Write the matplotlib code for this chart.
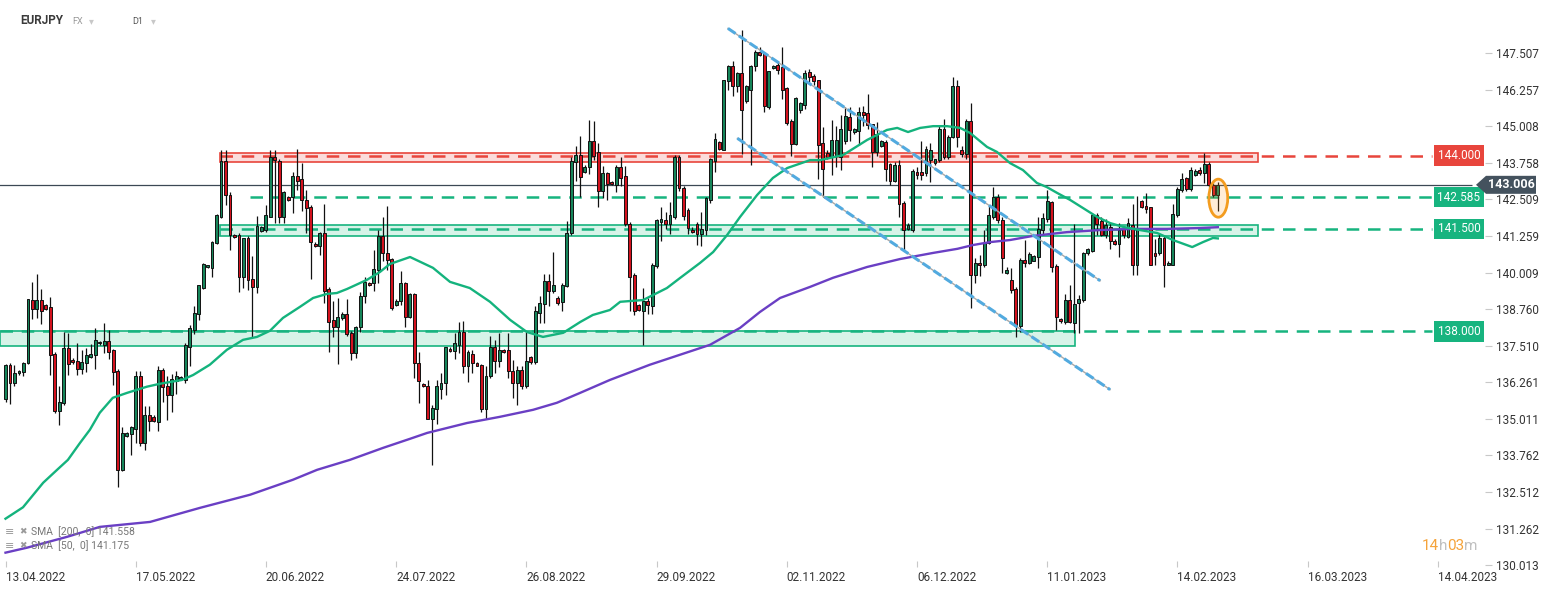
import numpy as np
import matplotlib.pyplot as plt
from matplotlib.patches import Rectangle, Ellipse, Polygon
from matplotlib.transforms import blended_transform_factory

plt.rcParams['font.family'] = ['Roboto', 'DejaVu Sans']

# daily candles EURJPY (Sun-Fri bars), 13.04.2022 -> last bar
opens = [
    135.68, 136.84, 136.23, 136.57, 136.62, 136.91, 139.08, 138.78, 139.08, 138.89,
    138.84, 137.23, 135.27, 135.55, 137.43, 137.03, 136.98, 136.71, 136.91, 137.14,
    137.19, 137.60, 137.55, 137.67, 137.36, 136.64, 133.27, 134.41, 134.48, 134.68,
    136.46, 134.20, 135.15, 135.09, 134.92, 136.68, 136.15, 135.84, 136.30, 136.37,
    136.34, 137.48, 138.05, 138.60, 139.47, 140.20, 140.18, 141.01, 141.91, 143.81,
    142.65, 141.28, 141.30, 139.85, 141.19, 139.78, 139.51, 141.42, 141.46, 141.92,
    143.97, 143.81, 141.92, 142.60, 142.58, 143.31, 143.19, 142.49, 142.24, 140.99,
    140.92, 141.35, 139.44, 138.39, 138.14, 138.45, 138.60, 137.96, 137.25, 138.14,
    139.21, 139.66, 139.64, 140.10, 141.26, 140.69, 140.46, 138.90, 139.05, 139.64,
    138.48, 139.28, 136.91, 136.21, 136.14, 135.00, 135.34, 136.02, 136.23, 137.41,
    137.34, 137.55, 137.98, 136.80, 137.23, 136.91, 136.84, 135.36, 136.48, 137.48,
    137.00, 137.37, 137.37, 136.66, 136.23, 136.69, 136.12, 137.12, 136.94, 138.64,
    138.92, 139.71, 139.39, 139.14, 139.00, 139.55, 141.35, 143.78, 144.04, 143.46,
    143.63, 144.49, 144.13, 142.78, 143.41, 143.10, 142.99, 143.61, 143.32, 141.68,
    139.93, 138.90, 138.70, 139.04, 138.88, 140.22, 141.75, 141.79, 141.66, 141.92,
    143.96, 142.89, 142.16, 141.45, 141.68, 141.32, 141.45, 142.48, 143.82, 144.46,
    144.21, 146.55, 147.07, 146.37, 146.82, 145.87, 146.25, 147.05, 147.53, 147.51,
    145.66, 147.00, 147.10, 147.03, 146.30, 145.19, 144.41, 145.55, 145.72, 146.85,
    146.72, 146.58, 144.42, 144.08, 143.97, 144.00, 143.97, 144.51, 145.31, 144.80,
    144.85, 145.49, 145.45, 145.08, 144.14, 144.33, 144.47, 143.72, 143.15, 143.70,
    142.40, 141.50, 141.46, 143.43, 143.43, 143.40, 143.85, 143.74, 143.85, 144.92,
    143.97, 144.65, 146.38, 144.20, 144.06, 145.18, 139.92, 140.35, 140.26, 141.03,
    141.92, 142.60, 141.81, 140.00, 139.76, 139.44, 138.17, 140.44, 140.35, 140.42,
    140.53, 141.46, 141.83, 142.42, 140.24, 138.42, 138.33, 139.07, 138.27, 138.96,
    139.07, 140.67, 140.76, 141.96, 141.76, 141.28, 141.58, 141.10, 140.99, 141.48,
    141.24, 141.65, 140.27, 142.46, 142.28, 142.24, 140.69, 140.67, 141.19, 140.28,
    140.28, 141.97, 142.83, 143.24, 142.87, 143.33, 143.51, 143.40, 143.72, 143.01, 142.65,
]
highs = [
    136.90, 136.91, 136.84, 136.68, 136.97, 139.12, 139.67, 139.96, 139.44, 138.92,
    139.18, 137.30, 136.14, 137.98, 137.96, 137.08, 137.60, 137.37, 137.44, 137.57,
    138.12, 137.66, 138.28, 138.05, 137.40, 136.70, 134.73, 134.55, 134.75, 136.66,
    136.66, 135.46, 135.46, 135.15, 136.80, 136.75, 136.46, 136.53, 136.63, 136.48,
    137.60, 138.22, 138.85, 139.60, 140.32, 140.27, 141.07, 142.00, 144.20, 144.20,
    142.76, 141.32, 141.35, 141.20, 141.25, 140.58, 141.94, 141.60, 142.33, 144.20,
    144.20, 143.90, 142.80, 142.64, 143.44, 144.24, 143.76, 142.83, 142.30, 141.05,
    141.40, 142.35, 139.50, 139.03, 139.14, 138.65, 139.12, 138.00, 138.20, 139.36,
    139.85, 139.70, 140.78, 141.46, 141.92, 142.28, 140.50, 139.10, 140.05, 139.70,
    139.30, 139.30, 137.28, 136.25, 136.34, 135.49, 136.34, 136.57, 137.48, 137.45,
    137.94, 138.33, 138.35, 137.37, 137.37, 136.95, 136.90, 136.80, 137.85, 137.71,
    137.94, 137.40, 137.94, 137.03, 136.80, 136.80, 137.98, 137.15, 138.85, 139.21,
    139.96, 139.96, 140.71, 139.20, 139.65, 141.76, 143.97, 144.33, 144.67, 143.70,
    145.22, 145.20, 144.42, 143.64, 143.45, 143.15, 143.68, 143.96, 143.64, 141.75,
    140.00, 138.95, 139.49, 139.13, 140.34, 141.84, 142.25, 142.09, 142.43, 144.02,
    144.02, 142.95, 142.20, 141.55, 141.75, 142.09, 142.60, 143.92, 144.78, 144.50,
    146.60, 147.10, 147.23, 146.85, 148.30, 146.40, 147.10, 147.60, 147.73, 147.55,
    146.90, 147.10, 147.19, 147.71, 146.35, 145.25, 146.00, 145.85, 146.94, 146.96,
    146.80, 146.60, 144.99, 144.20, 145.22, 145.00, 145.40, 145.67, 145.67, 144.95,
    145.67, 145.70, 146.11, 145.10, 145.15, 144.55, 144.54, 143.75, 143.79, 143.85,
    142.45, 141.70, 143.56, 143.63, 144.50, 144.33, 144.42, 143.90, 145.04, 145.24,
    144.70, 146.70, 146.59, 144.33, 145.24, 145.81, 140.49, 140.60, 141.46, 142.30,
    142.92, 142.70, 141.90, 140.20, 140.15, 139.50, 140.50, 141.12, 140.70, 140.60,
    141.92, 142.03, 142.83, 142.45, 140.30, 138.45, 139.28, 139.60, 141.67, 139.25,
    140.70, 140.85, 142.03, 142.03, 141.92, 141.85, 141.70, 141.15, 141.69, 141.60,
    141.86, 142.35, 142.63, 142.50, 142.74, 142.26, 141.17, 141.35, 141.25, 140.40,
    142.35, 142.94, 143.42, 143.28, 143.60, 143.55, 143.60, 144.10, 143.78, 143.08, 143.10,
]
lows = [
    135.60, 135.52, 136.12, 136.50, 136.46, 136.88, 138.41, 138.44, 138.26, 138.73,
    136.50, 135.20, 134.80, 135.50, 136.50, 136.90, 136.50, 136.53, 136.60, 137.10,
    136.73, 137.55, 137.25, 137.07, 136.18, 132.68, 133.22, 134.38, 133.77, 134.20,
    134.07, 133.93, 134.60, 134.90, 134.60, 135.57, 134.98, 135.23, 135.87, 136.33,
    136.25, 136.80, 137.90, 138.40, 139.46, 140.15, 139.85, 140.98, 141.88, 142.33,
    140.78, 141.20, 139.36, 139.47, 139.42, 137.82, 139.30, 141.40, 141.40, 141.90,
    141.69, 141.69, 141.69, 142.46, 142.03, 142.83, 142.10, 141.35, 139.78, 140.88,
    140.60, 138.96, 137.30, 137.80, 136.87, 138.40, 137.85, 137.03, 137.10, 137.99,
    138.96, 139.55, 139.37, 139.64, 140.40, 140.10, 138.73, 138.85, 138.90, 138.16,
    138.45, 136.40, 135.55, 136.10, 134.99, 133.44, 134.84, 135.68, 135.82, 137.30,
    137.05, 137.25, 136.57, 136.28, 136.57, 136.80, 135.26, 135.00, 136.40, 136.59,
    136.78, 137.25, 136.39, 135.71, 135.50, 136.02, 136.05, 136.90, 136.90, 138.28,
    138.28, 138.85, 139.30, 138.90, 138.69, 139.50, 141.30, 143.15, 142.58, 143.40,
    143.38, 143.85, 142.26, 142.55, 142.50, 143.00, 142.77, 142.95, 141.60, 138.70,
    138.56, 138.70, 137.54, 138.58, 138.58, 140.15, 141.07, 141.50, 141.34, 141.85,
    142.80, 141.81, 141.32, 141.35, 140.95, 140.91, 141.30, 142.40, 143.46, 144.20,
    144.20, 146.23, 146.03, 146.19, 144.07, 145.80, 143.68, 146.90, 147.40, 145.50,
    145.60, 146.95, 146.80, 145.94, 145.05, 144.00, 144.35, 145.45, 145.60, 146.50,
    146.40, 143.19, 142.60, 143.90, 143.35, 143.63, 143.50, 144.40, 144.51, 144.75,
    144.36, 145.00, 144.90, 143.63, 144.00, 144.30, 143.15, 142.99, 143.10, 141.90,
    140.78, 141.45, 141.40, 143.20, 143.17, 143.30, 143.11, 143.70, 143.80, 143.90,
    143.90, 144.60, 144.30, 143.97, 143.90, 138.80, 139.64, 139.90, 140.20, 141.00,
    141.85, 141.70, 139.98, 139.95, 139.30, 137.82, 137.99, 140.20, 140.30, 140.40,
    140.16, 141.30, 141.75, 140.04, 138.05, 138.30, 138.25, 138.27, 137.94, 137.94,
    139.00, 140.60, 140.70, 141.30, 141.25, 141.20, 140.80, 140.95, 140.55, 141.20,
    141.20, 139.93, 139.93, 142.20, 142.03, 140.25, 140.25, 140.60, 139.53, 140.25,
    140.25, 141.90, 142.75, 142.80, 142.80, 143.30, 143.35, 143.06, 142.94, 142.60, 142.10,
]
closes = [
    136.84, 136.23, 136.59, 136.65, 136.93, 139.10, 138.76, 139.08, 138.69, 138.78,
    137.19, 135.27, 135.58, 137.43, 136.87, 136.94, 136.71, 136.96, 137.19, 137.23,
    137.71, 137.63, 137.67, 137.28, 136.62, 133.27, 134.52, 134.52, 134.73, 136.46,
    134.18, 135.15, 134.95, 134.95, 136.68, 136.09, 135.84, 136.37, 136.48, 136.45,
    137.53, 138.10, 138.62, 139.57, 140.30, 140.25, 141.05, 141.96, 143.81, 142.65,
    141.30, 141.24, 139.85, 141.19, 139.76, 139.53, 141.60, 141.56, 141.96, 143.97,
    143.85, 141.92, 142.76, 142.50, 143.31, 143.15, 142.49, 142.20, 141.05, 140.92,
    141.35, 139.39, 138.33, 138.14, 138.50, 138.60, 137.91, 137.25, 138.16, 139.21,
    139.69, 139.60, 140.12, 141.26, 140.67, 140.44, 138.80, 139.05, 139.64, 138.48,
    139.28, 136.91, 136.29, 136.12, 135.00, 135.38, 136.12, 136.23, 137.46, 137.32,
    137.59, 137.98, 136.80, 137.30, 136.93, 136.82, 135.36, 136.48, 137.48, 137.00,
    137.37, 137.28, 136.64, 136.23, 136.69, 136.12, 137.00, 136.94, 138.69, 138.96,
    139.71, 139.39, 139.60, 138.96, 139.60, 141.37, 143.81, 144.04, 143.29, 143.63,
    144.49, 143.99, 142.78, 143.41, 143.05, 143.02, 143.61, 143.25, 141.68, 139.86,
    138.70, 138.72, 139.04, 138.90, 140.27, 141.79, 141.84, 141.66, 141.97, 143.97,
    142.89, 141.93, 141.52, 141.40, 141.34, 141.50, 142.55, 143.89, 144.57, 144.23,
    146.57, 147.07, 146.37, 146.82, 145.55, 146.37, 147.05, 147.53, 147.44, 145.69,
    146.89, 147.07, 146.92, 146.25, 145.12, 144.41, 145.98, 145.80, 146.81, 146.70,
    146.56, 144.38, 143.56, 143.97, 144.54, 144.54, 144.93, 145.36, 144.88, 144.90,
    145.49, 145.40, 145.04, 144.14, 144.74, 144.49, 143.56, 143.15, 143.70, 142.35,
    141.46, 141.64, 143.47, 143.33, 143.35, 144.22, 144.20, 143.88, 144.92, 143.97,
    144.65, 146.38, 144.65, 144.06, 145.18, 139.92, 140.33, 140.26, 141.03, 141.96,
    142.60, 141.81, 140.50, 140.10, 139.42, 138.17, 140.44, 140.33, 140.64, 140.57,
    141.51, 141.87, 142.47, 140.19, 138.48, 138.35, 139.07, 138.33, 138.94, 139.10,
    140.67, 140.80, 141.96, 141.67, 141.30, 141.65, 141.07, 141.00, 141.46, 141.28,
    141.69, 140.27, 141.49, 142.24, 142.17, 140.28, 140.58, 141.19, 140.28, 140.35,
    142.01, 142.85, 143.22, 142.87, 143.51, 143.49, 143.42, 143.72, 143.01, 142.65, 143.006,
]

# moving averages (bar index, value)
sma50_idx = [0, 3.9, 8.4, 11.7, 13.9, 16.6, 18.8, 21.0, 23.9, 27.1, 31.5, 34.4, 39.3, 41.8,
             45.5, 49.3, 52.9, 56.0, 58.9, 61.8, 65.6, 68.5, 71.6, 73.8, 76.1, 80.5, 83.4,
             85.6, 90.1, 95.2, 99.0, 103.4, 107.9, 112.4, 116.1, 119.7, 124.2, 128.0, 130.8,
             134.6, 136.9, 142.0, 147.3, 150.2, 154.7, 157.6, 160.7, 163.6, 167.4, 170.9,
             174.1, 179.2, 181.4, 186.5, 191.9, 196.3, 198.6, 201.0, 203.7, 206.6, 209.7,
             212.6, 214.8, 218.6, 220.8, 223.7, 226.6, 229.7, 231.9, 234.2, 237.1, 240.0,
             243.1, 246.0, 248.9, 252.7, 256.5, 260.0, 264.3, 266.7, 268.9, 270]
sma50_val = [131.60, 131.99, 132.83, 133.30, 133.61, 134.19, 134.64, 135.22, 135.73, 135.90,
             136.11, 136.21, 136.34, 136.51, 136.86, 137.37, 137.71, 137.81, 138.02, 138.46,
             138.84, 139.14, 139.28, 139.31, 139.45, 139.76, 140.03, 140.30, 140.54, 140.17,
             139.69, 139.48, 139.01, 138.39, 137.98, 137.81, 137.95, 138.32, 138.56, 138.73,
             139.01, 139.07, 139.48, 139.82, 140.34, 140.71, 141.29, 141.91, 142.66, 143.24,
             143.58, 143.85, 143.85, 144.02, 144.54, 144.88, 144.95, 144.81, 144.95, 145.01,
             145.01, 144.95, 144.78, 144.30, 144.13, 143.75, 143.51, 143.07, 142.93, 142.73,
             142.49, 142.21, 141.91, 141.70, 141.57, 141.46, 141.36, 141.12, 140.88, 141.05,
             141.19, 141.175]
sma200_idx = [0, 4.8, 13.7, 21.0, 32.2, 43.3, 54.5, 64.0, 69.4, 76.7, 84.1, 90.1, 93.9,
              102.8, 110.1, 117.5, 122.8, 128.0, 134.6, 143.5, 150.2, 156.9, 163.6, 168.0,
              172.5, 179.2, 184.3, 191.9, 199.2, 206.6, 212.0, 215.5, 219.3, 223.7, 228.8,
              236.4, 243.7, 251.1, 258.7, 266.0, 270]
sma200_val = [130.44, 130.61, 130.98, 131.32, 131.49, 131.97, 132.42, 132.93, 133.27, 133.61,
              134.02, 134.33, 134.53, 134.87, 135.08, 135.32, 135.56, 135.90, 136.34, 136.86,
              137.20, 137.54, 138.12, 138.66, 139.14, 139.52, 139.83, 140.20, 140.47, 140.68,
              140.82, 140.95, 141.05, 141.12, 141.26, 141.39, 141.46, 141.50, 141.50, 141.53,
              141.558]

# trend channel (start idx, start price, end idx, end price)
trend_upper = [160.9, 148.35, 243.8, 139.73]
trend_lower = [163.0, 144.595, 246.0, 136.01]

# horizontal levels and zones
level_vals = [144.000, 142.585, 141.500, 138.000]
level_start = [47.8, 54.5, 47.8, -1.3]
level_colors = ['#e8453c', '#17b47f', '#17b47f', '#17b47f']
zones = [(143.77, 144.10, 47.8, 278.9, '#fbdcdb', '#e8453c'),
         (141.27, 141.62, 47.8, 278.9, '#d7f3e8', '#17b47f'),
         (137.50, 138.00, -1.3, 238.2, '#d7f3e8', '#17b47f')]
last_price = 143.006

date_labels = ['13.04.2022', '17.05.2022', '20.06.2022', '24.07.2022', '26.08.2022',
               '29.09.2022', '02.11.2022', '06.12.2022', '11.01.2023', '14.02.2023',
               '16.03.2023', '14.04.2023']
bars_per_label = 29
price_ticks = [130.013, 131.262, 132.512, 133.762, 135.011, 136.261, 137.510, 138.760,
               140.009, 141.259, 142.509, 143.758, 145.008, 146.257, 147.507]

W, H = 1546, 590
fig = plt.figure(figsize=(W / 100, H / 100), dpi=100)
ax = fig.add_axes([0, 23 / H, 1485 / W, 567 / H])
ax.set_xlim(-1.225, 329.5)
ax.set_ylim(129.95, 149.32)
for s in ax.spines.values():
    s.set_visible(False)

# zones
for lo, hi, x0, x1, fc, ec in zones:
    ax.add_patch(Rectangle((x0, lo), x1 - x0, hi - lo, facecolor=fc, edgecolor=ec,
                           lw=1.2, zorder=1))
level_end = 317.7
for v, x0, col in zip(level_vals, level_start, level_colors):
    ax.hlines(v, x0, level_end, colors=col, lw=1.8, linestyles=(0, (5, 3.5)), zorder=2)

ax.hlines(last_price, -2, 326.5, colors='#3c4854', lw=0.9, zorder=2)

# candles
o = np.array(opens)
h = np.array(highs)
l = np.array(lows)
c = np.array(closes)
idx = np.arange(len(c))
up = c >= o
ax.vlines(idx, l, h, colors='#111111', lw=0.9, zorder=3)
body = np.maximum(np.abs(c - o), 0.05)
ax.bar(idx, body, bottom=np.minimum(o, c), width=0.64,
       color=np.where(up, '#16855a', '#d3121e'), edgecolor='#111111', linewidth=0.7, zorder=4)

# SMAs
ax.plot(sma200_idx, sma200_val, color='#6a3fc4', lw=1.7, zorder=5)
ax.plot(sma50_idx, sma50_val, color='#14b37d', lw=1.7, zorder=5)

# trend channel
for x0, y0, x1, y1 in (trend_upper, trend_lower):
    ax.plot([x0, x1], [y0, y1], color='#a8a8a8', lw=1.0, zorder=6)
    ax.plot([x0, x1], [y0, y1], color='#52aadf', lw=2.2, dashes=(3.0, 1.3), zorder=6)

# highlight last candles
ax.add_patch(Ellipse((270.1, 142.55), 4.2, 1.3, facecolor=(1.0, 0.62, 0.15, 0.18),
                     edgecolor='#f39c1f', lw=2.0, zorder=7))

# axes ticks
ax.yaxis.tick_right()
ax.set_yticks(price_ticks)
ax.set_yticklabels([f'{v:.3f}' for v in price_ticks])
ax.tick_params(axis='y', direction='out', length=5, width=0.8, color='#c8c8c8',
               labelsize=8.5, labelcolor='#333333', pad=3)
ax.set_xticks(np.arange(len(date_labels)) * bars_per_label)
ax.set_xticklabels(date_labels)
ax.tick_params(axis='x', direction='in', length=4, width=0.8, color='#c8c8c8',
               labelsize=8.5, labelcolor='#333333', pad=3)
for t in ax.get_xticklabels():
    t.set_ha('left')

# level labels
tr = blended_transform_factory(ax.transAxes, ax.transData)
for v, col in zip(level_vals, level_colors):
    ax.text(1459 / 1485, v, f'{v:.3f}', transform=tr, ha='center', va='center',
            fontsize=8.5, color='white', zorder=9,
            bbox=dict(boxstyle='square,pad=0.32', facecolor=col, edgecolor='none'))


def fx(x):
    return x / W


def fy(y):
    return 1 - y / H


yp = ax.transData.transform((0, last_price))[1]
yp = H - yp
fig.patches.append(Polygon([(fx(1476), fy(yp)), (fx(1486), fy(yp - 9)), (fx(1536), fy(yp - 9)),
                            (fx(1536), fy(yp + 9)), (fx(1486), fy(yp + 9))],
                           closed=True, transform=fig.transFigure, facecolor='#44525e',
                           edgecolor='none', zorder=10))
fig.text(fx(1511), fy(yp), f'{last_price:.3f}', ha='center', va='center', fontsize=9,
         fontweight='bold', color='white', zorder=11)

# header
fig.text(fx(20), fy(21), 'EURJPY', fontsize=8.5, fontweight='bold', color='#3a3a3a', va='center')
fig.text(fx(72), fy(21), 'FX', fontsize=6.5, color='#9a9a9a', va='center')
fig.text(fx(89), fy(21), '▾', fontsize=7, color='#c8c8c8', va='center')
fig.text(fx(132), fy(21), 'D1', fontsize=6.5, color='#555555', va='center')
fig.text(fx(151), fy(21), '▾', fontsize=7, color='#c8c8c8', va='center')

# indicator legend
for yy, txt in ((532, 'SMA  [200,  0] 141.558'), (546, 'SMA  [50,  0] 141.175')):
    fig.text(fx(5), fy(yy), '≡', fontsize=8, color='#9a9a9a', va='center')
    fig.text(fx(19), fy(yy), '✖', fontsize=6.5, color='#9a9a9a', va='center')
    fig.text(fx(31), fy(yy), txt, fontsize=7.5, color='#777777', va='center')

# candle timer
fig.text(fx(1422), fy(546), '14', fontsize=11, color='#f5a33a', va='center')
fig.text(fx(1439), fy(546), 'h', fontsize=11, color='#c0c0c0', va='center')
fig.text(fx(1447), fy(546), '03', fontsize=11, color='#f5a33a', va='center')
fig.text(fx(1464), fy(546), 'm', fontsize=11, color='#c0c0c0', va='center')

fig.savefig('out.png', dpi=100, facecolor='white')
